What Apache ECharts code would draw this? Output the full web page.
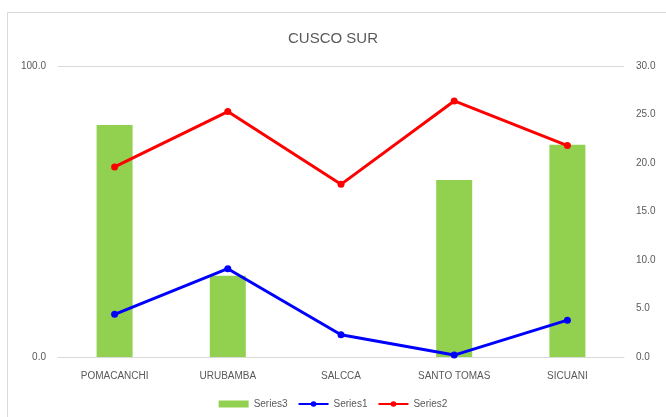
<!DOCTYPE html>
<html>
<head>
<meta charset="utf-8">
<script src="https://cdn.jsdelivr.net/npm/echarts@6/dist/echarts.min.js"></script>
<style>
  html, body { margin: 0; padding: 0; background: #fff; }
  #chart { width: 666px; height: 417px; }
</style>
</head>
<body>
<div id="chart"></div>
<script>
  // data
  var categories = ['POMACANCHI', 'URUBAMBA', 'SALCCA', 'SANTO TOMAS', 'SICUANI']
  var series3 = [79.7, 27.9, 0, 60.8, 72.9]      // bars, left axis
  var series1 = [4.4, 9.1, 2.3, 0.2, 3.8]         // blue line, right axis
  var series2 = [19.6, 25.3, 17.8, 26.4, 21.8]    // red line, right axis

  var labelColor = '#595959'
  var font = 'Liberation Sans'

  var chart = echarts.init(document.getElementById('chart'))
  chart.setOption({
    animation: false,
    title: {
      text: 'CUSCO SUR',
      left: 'center',
      top: 26,
      textStyle: {
        color: labelColor,
        fontFamily: font,
        fontWeight: 'normal',
        fontSize: 15
      }
    },
    graphic: [{
      type: 'rect',
      shape: { x: 7.5, y: 12.5, width: 700, height: 440 },
      style: { fill: 'none', stroke: '#d9d9d9', lineWidth: 1 },
      silent: true,
      z: -1
    }],
    grid: {
      left: 58,
      right: 42,
      top: 66,
      bottom: 60
    },
    legend: {
      bottom: 3,
      left: 'center',
      itemWidth: 30,
      itemHeight: 7,
      itemGap: 10,
      textStyle: { color: labelColor, fontFamily: font, fontSize: 10 },
      data: [
        { name: 'Series3', icon: 'rect' },
        { name: 'Series1' },
        { name: 'Series2' }
      ]
    },
    xAxis: {
      type: 'category',
      data: categories,
      axisTick: { show: false },
      axisLine: { lineStyle: { color: '#d9d9d9' } },
      axisLabel: {
        color: labelColor,
        fontFamily: font,
        fontSize: 10,
        margin: 14
      }
    },
    yAxis: [{
      type: 'value',
      min: 0,
      max: 100,
      interval: 100,
      axisLine: { show: false },
      axisTick: { show: false },
      splitLine: { lineStyle: { color: '#d9d9d9' } },
      axisLabel: {
        color: labelColor,
        fontFamily: font,
        fontSize: 10,
        margin: 12,
        formatter: function (v) { return v.toFixed(1) }
      }
    }, {
      type: 'value',
      min: 0,
      max: 30,
      interval: 5,
      axisLine: { show: false },
      axisTick: { show: false },
      splitLine: { show: false },
      axisLabel: {
        color: labelColor,
        fontFamily: font,
        fontSize: 10,
        margin: 12,
        formatter: function (v) { return v.toFixed(1) }
      }
    }],
    series: [{
      name: 'Series3',
      type: 'bar',
      yAxisIndex: 0,
      barWidth: 36,
      itemStyle: { color: '#92d050' },
      data: series3
    }, {
      name: 'Series1',
      type: 'line',
      yAxisIndex: 1,
      symbol: 'circle',
      symbolSize: 7,
      lineStyle: { color: '#0000ff', width: 3 },
      itemStyle: { color: '#0000ff' },
      data: series1
    }, {
      name: 'Series2',
      type: 'line',
      yAxisIndex: 1,
      symbol: 'circle',
      symbolSize: 7,
      lineStyle: { color: '#ff0000', width: 3 },
      itemStyle: { color: '#ff0000' },
      data: series2
    }]
  })
</script>
</body>
</html>
